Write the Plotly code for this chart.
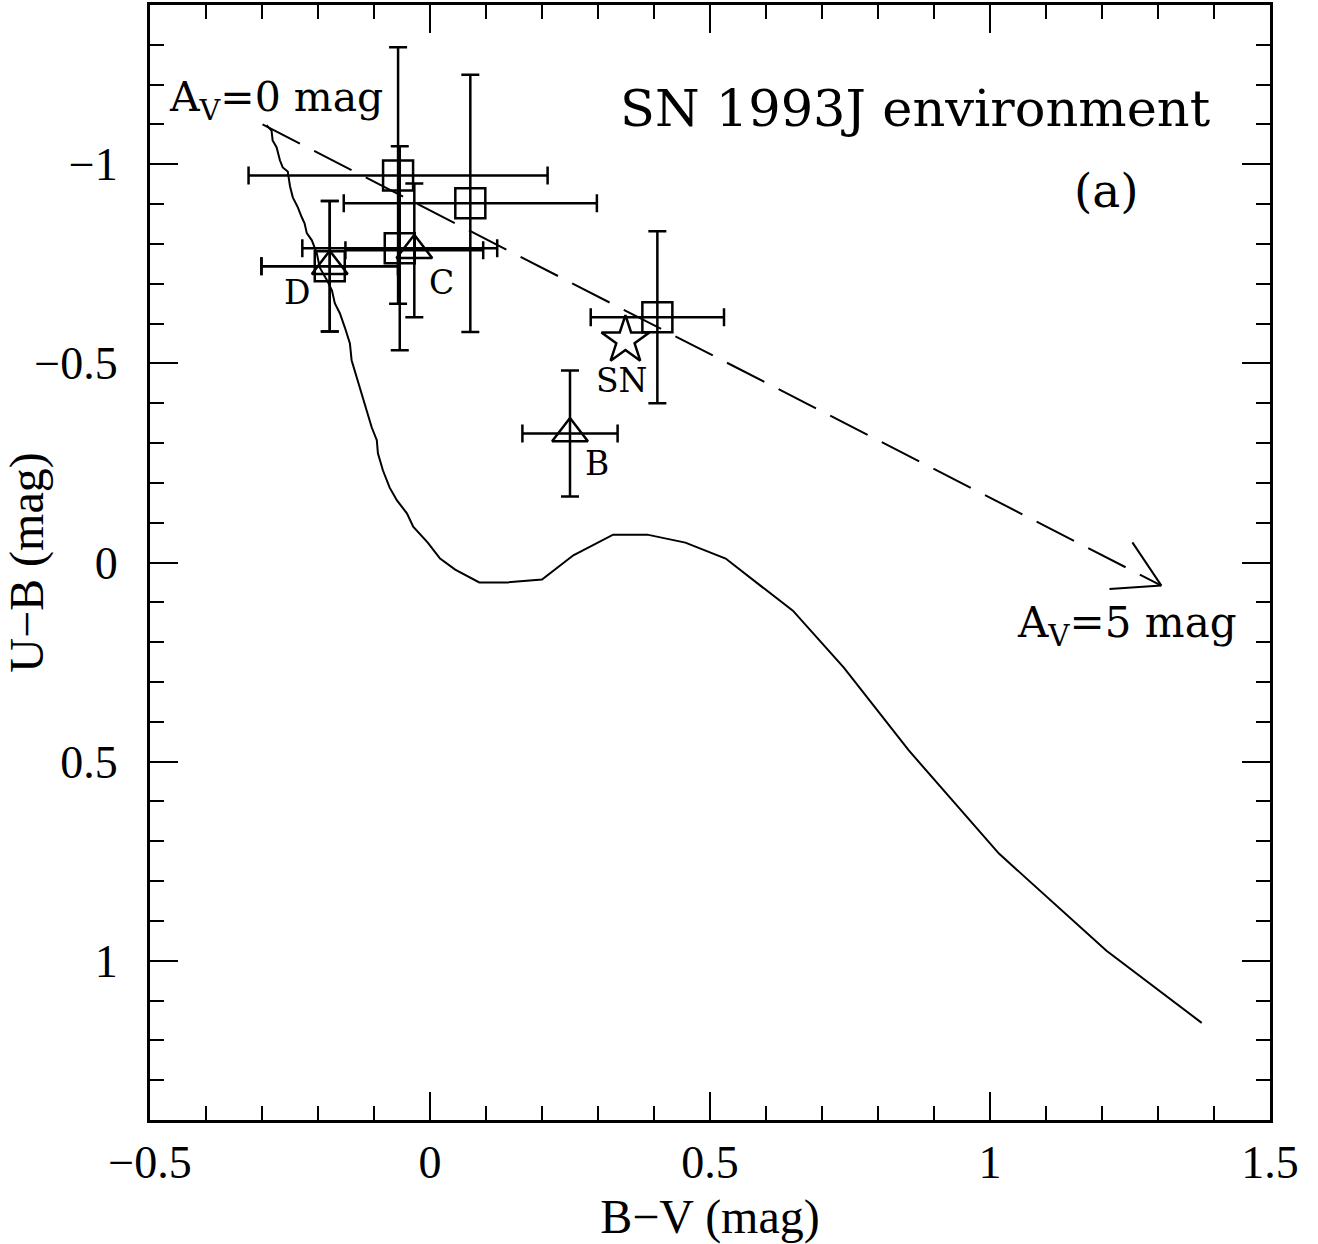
import math
import plotly.graph_objects as go

# ---------------- data ----------------
# intrinsic colour sequence (B-V, U-B)
seq_bv = [-0.292, -0.283, -0.281, -0.274, -0.268, -0.263, -0.254, -0.250, -0.245, -0.236,
          -0.229, -0.224, -0.220, -0.211, -0.202, -0.197, -0.184, -0.175, -0.170, -0.161,
          -0.152, -0.147, -0.143, -0.140, -0.131, -0.120, -0.113, -0.104, -0.095, -0.093,
          -0.084, -0.072, -0.059, -0.041, -0.030, -0.004, 0.018, 0.045, 0.088, 0.138,
          0.200, 0.256, 0.327, 0.388, 0.456, 0.528, 0.590, 0.648, 0.739, 0.855,
          1.016, 1.208, 1.378]
seq_ub = [-1.098, -1.085, -1.060, -1.043, -1.010, -0.992, -0.982, -0.945, -0.917, -0.892,
          -0.867, -0.852, -0.827, -0.809, -0.776, -0.741, -0.709, -0.683, -0.651, -0.626,
          -0.590, -0.565, -0.550, -0.508, -0.465, -0.415, -0.382, -0.339, -0.307, -0.274,
          -0.231, -0.188, -0.156, -0.123, -0.090, -0.050, -0.010, 0.018, 0.050, 0.050,
          0.043, -0.018, -0.070, -0.070, -0.050, -0.010, 0.058, 0.121, 0.264, 0.472,
          0.731, 0.975, 1.156]

# squares
sq_bv = [-0.057, -0.054, 0.072, 0.406, -0.179]
sq_ub = [-0.972, -0.789, -0.902, -0.616, -0.744]
sq_bv_err = [0.267, 0.174, 0.226, 0.119, 0.122]
sq_ub_err = [0.322, 0.256, 0.323, 0.216, 0.164]

# triangles (labelled)
tri_names = ["B", "C", "D"]
tri_bv = [0.250, -0.028, -0.179]
tri_ub = [-0.324, -0.784, -0.744]
tri_bv_err = [0.085, 0.123, 0.122]
tri_ub_err = [0.158, 0.168, 0.164]
tri_label_bv = [0.299, 0.020, -0.238]
tri_label_ub = [-0.249, -0.703, -0.678]

# supernova
sn_bv = [0.349]
sn_ub = [-0.558]

# reddening vector A_V = 0 -> 5 mag
av_bv = [-0.299, 1.306]
av_ub = [-1.100, 0.058]

x_range = [-0.5, 1.5]
y_range = [1.4, -1.4]
x_ticks = [-0.5, 0, 0.5, 1, 1.5]
x_ticklabels = ["\u22120.5", "0", "0.5", "1", "1.5"]
y_ticks = [-1, -0.5, 0, 0.5, 1]
y_ticklabels = ["\u22121", "\u22120.5", "0", "0.5", "1"]

# ---------------- layout geometry ----------------
W, H = 1318, 1244
ML, MR, MT, MB = 150, 48, 5, 124
pw = W - ML - MR
ph = H - MT - MB
sx = pw / (x_range[1] - x_range[0])
sy = ph / (y_range[0] - y_range[1])  # pixels per unit, y downwards

# arrow head wings computed from the vector direction (in pixel space)
dxp = (av_bv[1] - av_bv[0]) * sx
dyp = (av_ub[1] - av_ub[0]) * sy
ang = math.atan2(dyp, dxp) + math.pi
wing_len = 52
wing_bv, wing_ub = [], []
for da in (math.radians(29), math.radians(-31)):
    a = ang + da
    wing_bv += [av_bv[1] + wing_len * math.cos(a) / sx, av_bv[1], None]
    wing_ub += [av_ub[1] + wing_len * math.sin(a) / sy, av_ub[1], None]

FONT = "Liberation Serif"
AFONT = "DejaVu Serif"

fig = go.Figure()

fig.add_trace(go.Scatter(x=seq_bv, y=seq_ub, mode="lines",
                         line=dict(color="black", width=2), hoverinfo="skip"))
fig.add_trace(go.Scatter(x=av_bv, y=av_ub, mode="lines",
                         line=dict(color="black", width=2, dash="42px,16px"), hoverinfo="skip"))
fig.add_trace(go.Scatter(x=wing_bv, y=wing_ub, mode="lines",
                         line=dict(color="black", width=2), hoverinfo="skip"))

err_style = dict(type="data", color="black", thickness=2.5, width=9)

fig.add_trace(go.Scatter(
    x=sq_bv, y=sq_ub, mode="markers",
    marker=dict(symbol="square-open", size=30, color="black", line=dict(width=2.5, color="black")),
    error_x=dict(array=sq_bv_err, **err_style),
    error_y=dict(array=sq_ub_err, **err_style)))

fig.add_trace(go.Scatter(
    x=tri_bv, y=tri_ub, mode="markers",
    marker=dict(symbol="triangle-up-open", size=31, color="black", line=dict(width=2.5, color="black")),
    error_x=dict(array=tri_bv_err, **err_style),
    error_y=dict(array=tri_ub_err, **err_style)))

fig.add_trace(go.Scatter(
    x=sn_bv, y=sn_ub, mode="markers",
    marker=dict(symbol="star-open", size=36, color="black", line=dict(width=2.5, color="black"))))

ann = []
for name, lx, ly in zip(tri_names, tri_label_bv, tri_label_ub):
    ann.append(dict(x=lx, y=ly, text=name, showarrow=False, xanchor="center", yanchor="middle",
                    font=dict(family=AFONT, size=33, color="black")))
ann.append(dict(x=0.342, y=-0.457, text="SN", showarrow=False, xanchor="center", yanchor="middle",
                font=dict(family=AFONT, size=33, color="black")))
ann.append(dict(x=-0.470, y=-1.161, text="A<sub>V</sub>=0 mag", showarrow=False,
                xanchor="left", yanchor="middle", font=dict(family=AFONT, size=41, color="black")))
ann.append(dict(x=1.444, y=0.158, text="A<sub>V</sub>=5 mag", showarrow=False,
                xanchor="right", yanchor="middle", font=dict(family=AFONT, size=42, color="black")))
ann.append(dict(x=1.399, y=-1.141, text="SN 1993J environment", showarrow=False,
                xanchor="right", yanchor="middle", font=dict(family=AFONT, size=51, color="black")))
ann.append(dict(x=1.270, y=-0.935, text="(a)", showarrow=False,
                xanchor="right", yanchor="middle", font=dict(family=AFONT, size=47, color="black")))

axis_common = dict(showline=True, linecolor="black", linewidth=3, mirror="allticks",
                   ticks="inside", ticklen=28, tickwidth=2, tickcolor="black",
                   showgrid=False, zeroline=False,
                   tickfont=dict(family=FONT, size=46, color="black"))

fig.update_xaxes(range=x_range, tickvals=x_ticks, ticktext=x_ticklabels,
                 minor=dict(ticks="inside", ticklen=14, tickwidth=2, dtick=0.1, tickcolor="black", showgrid=False),
                 title=dict(text="B\u2212V (mag)", font=dict(family=FONT, size=48, color="black"), standoff=26),
                 ticklabelstandoff=0, **axis_common)
fig.update_yaxes(range=y_range, tickvals=y_ticks, ticktext=y_ticklabels,
                 minor=dict(ticks="inside", ticklen=14, tickwidth=2, dtick=0.1, tickcolor="black", showgrid=False),
                 title=dict(text="U\u2212B (mag)", font=dict(family=FONT, size=48, color="black"), standoff=14),
                 ticklabelstandoff=20, **axis_common)

fig.update_layout(width=W, height=H, margin=dict(l=ML, r=MR, t=MT, b=MB, autoexpand=False),
                  paper_bgcolor="white", plot_bgcolor="white", showlegend=False,
                  annotations=ann)

fig.write_html("out.html")
